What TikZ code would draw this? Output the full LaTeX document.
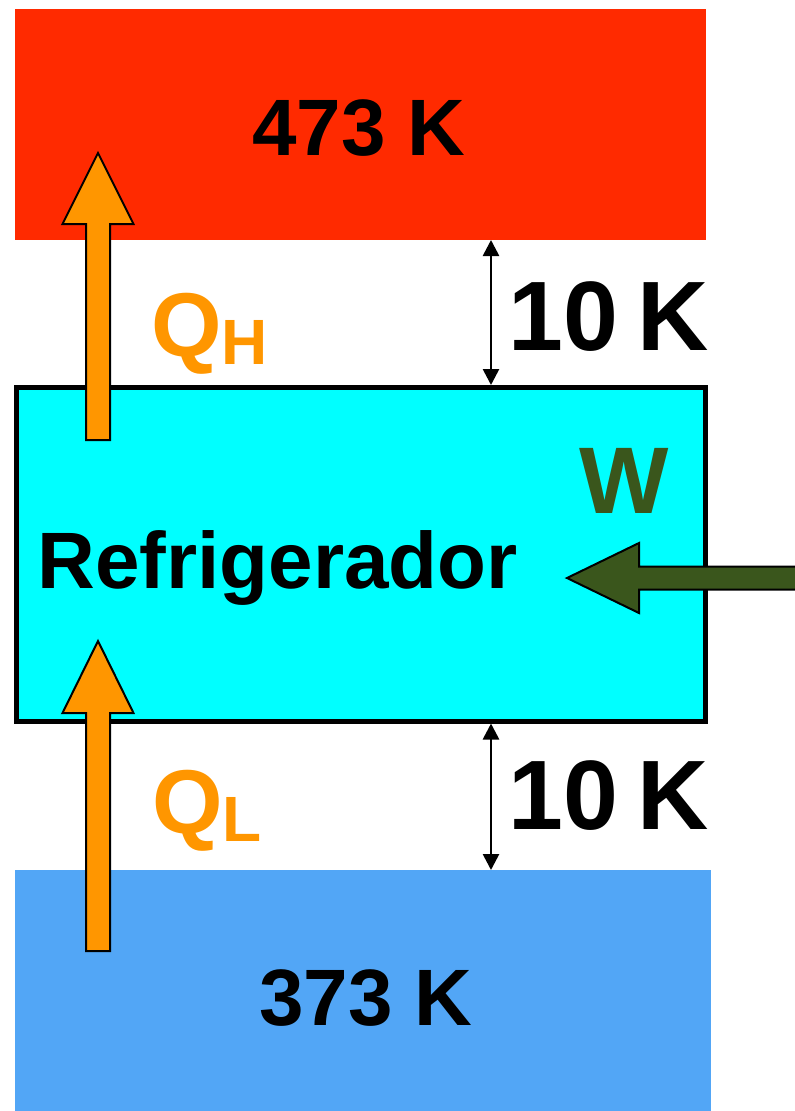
\documentclass[tikz,border=0pt]{standalone}
\usepackage{fontspec}
\setmainfont{Liberation Sans}
\usepackage{tikz}
\usetikzlibrary{arrows.meta, calc}
\definecolor{hotred}{HTML}{FF2A00}
\definecolor{coldblue}{HTML}{52A6F6}
\definecolor{fridgecyan}{HTML}{00FFFF}
\definecolor{heatorange}{HTML}{FF9600}
\definecolor{workgreen}{HTML}{3A561C}

\begin{document}
\begin{tikzpicture}[x=0.75pt, y=-0.75pt,
  reservoir/.style={rectangle, inner sep=0pt, outer sep=0pt},
  temp/.style={font=\bfseries\fontsize{60}{72}\selectfont, inner sep=0pt, anchor=base},
  gaplbl/.style={font=\bfseries\fontsize{74}{88}\selectfont, inner sep=0pt, anchor=base west},
  heatlbl/.style={text=heatorange, font=\bfseries\fontsize{68}{80}\selectfont, inner sep=0pt, anchor=base west},
  heat/.style={draw=black, line width=1.5pt, fill=heatorange},
  work/.style={draw=black, line width=1.5pt, fill=workgreen},
  dim/.style={{Triangle[length=12pt,width=12pt]}-{Triangle[length=12pt,width=12pt]}, line width=2pt}]
  \useasboundingbox (0,0) rectangle (794,1111);
  \node[reservoir, fill=hotred, minimum width=518.25pt, minimum height=173.25pt] (hot) at (360.5,124.5) {};
  \node[reservoir, fill=coldblue, minimum width=522pt, minimum height=180.75pt] (cold) at (363,990.5) {};
  \node[rectangle, inner sep=0pt, draw=black, line width=3.75pt, fill=fridgecyan,
    minimum width=516.75pt, minimum height=250.125pt] (fridge) at (361,554.25) {};
  \node[temp] (thot) at (359,155) {473 K};
  \node[temp] (tcold) at (366,1025) {373 K};
  \node[temp] (name) at (277.5,588) {Refrigerador};
  \coordinate (dimx) at (491,0);
  \node[gaplbl] (gaptop) at (508,350) {10\hspace{0.2em}K};
  \node[gaplbl] (gapbot) at (508,829) {10\hspace{0.2em}K};
  \draw[dim] (hot.south -| dimx) -- (fridge.north -| dimx);
  \draw[dim] (fridge.south -| dimx) -- (cold.north -| dimx);
  \coordinate (qhsrc) at (98,440);
  \coordinate (qhtip) at (98,153);
  \coordinate (qlsrc) at (98,951);
  \coordinate (qltip) at (98,641);
  \coordinate (wsrc) at (800,578);
  \coordinate (wtip) at (567,578);
  \draw[heat] ($(qhsrc)+(-12,0)$) -- ($(qhtip)+(-12,71)$) -- ($(qhtip)+(-35.5,71)$) -- (qhtip)
    -- ($(qhtip)+(35.5,71)$) -- ($(qhtip)+(12,71)$) -- ($(qhsrc)+(12,0)$) -- cycle;
  \draw[heat] ($(qlsrc)+(-12,0)$) -- ($(qltip)+(-12,72)$) -- ($(qltip)+(-35.5,72)$) -- (qltip)
    -- ($(qltip)+(35.5,72)$) -- ($(qltip)+(12,72)$) -- ($(qlsrc)+(12,0)$) -- cycle;
  \draw[work] ($(wsrc)+(0,-11.5)$) -- ($(wtip)+(72,-11.5)$) -- ($(wtip)+(72,-35)$) -- (wtip)
    -- ($(wtip)+(72,35)$) -- ($(wtip)+(72,11.5)$) -- ($(wsrc)+(0,11.5)$) -- cycle;
  \node[heatlbl] (qh) at (151,356) {Q\raisebox{-6pt}{\fontsize{48}{56}\selectfont H}};
  \node[heatlbl] (ql) at (152,833) {Q\raisebox{-6pt}{\fontsize{48}{56}\selectfont L}};
  \node[temp, text=workgreen, font=\bfseries\fontsize{71}{84}\selectfont] (w) at (624.5,513) {W};
\end{tikzpicture}
\end{document}
